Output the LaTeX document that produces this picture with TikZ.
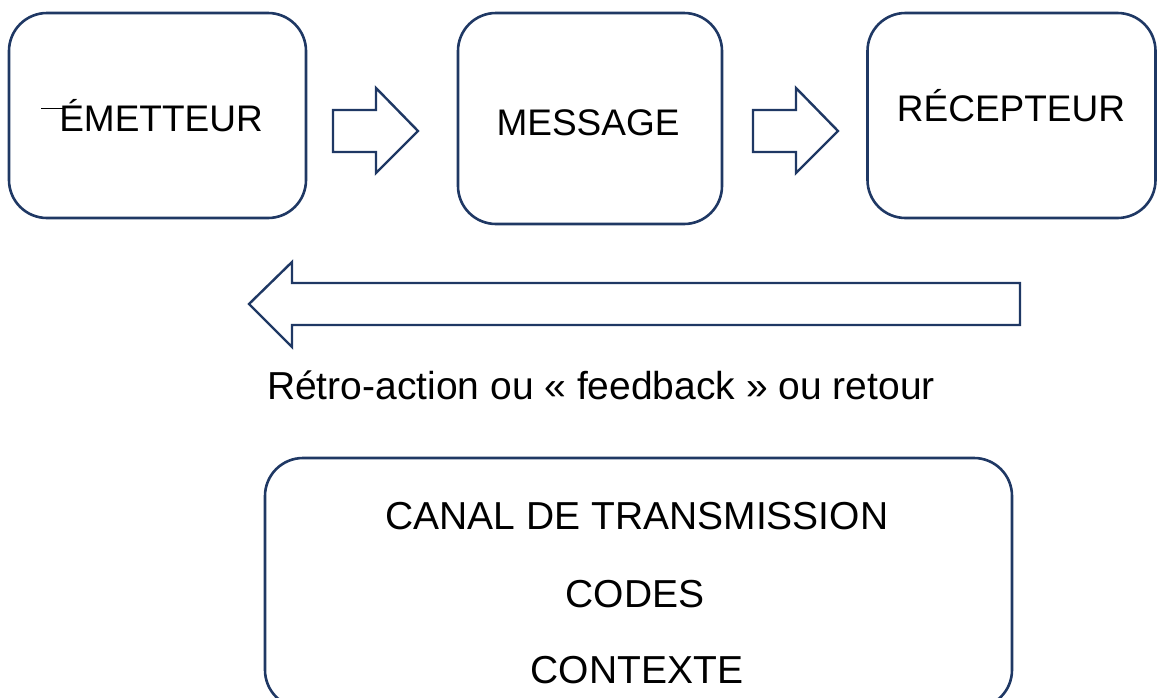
\documentclass[tikz,border=0pt]{standalone}
\usepackage{fontspec}
\setmainfont{Liberation Sans}
\definecolor{navy}{HTML}{1F3864}
\begin{document}
\begin{tikzpicture}[x=1pt,y=-1pt,
  box/.style={draw=navy,line width=2.6pt,rounded corners=38pt,inner sep=0pt},
  blockarrow/.style={draw=navy,line width=2.4pt,line join=miter,fill=white},
  lbl/.style={font=\fontsize{37}{42}\selectfont,inner sep=0pt,anchor=base},
  biglbl/.style={font=\fontsize{39}{44}\selectfont,inner sep=0pt,anchor=base}]
\useasboundingbox (0,0) rectangle (1157,697);
% boxes
\node[box,minimum width=297pt,minimum height=205pt] (emet) at (157.5,115.5) {};
\node[box,minimum width=264pt,minimum height=211pt] (mess) at (590,118.5) {};
\node[box,minimum width=288pt,minimum height=205pt] (recep) at (1011.5,115.5) {};
\node[box,minimum width=747pt,minimum height=250pt] (canal) at (638.5,583) {};
% labels
\node[lbl] (temet) at (161,131) {ÉMETTEUR};
\node[lbl] (tmess) at (588,135) {MESSAGE};
\node[lbl] (trecep) at (1011,121) {RÉCEPTEUR};
\node[biglbl] (tfeed) at (601,399) {Rétro-action ou « feedback » ou retour};
\node[biglbl] (tcanal) at (637,529) {CANAL DE TRANSMISSION};
\node[biglbl] (tcodes) at (635,607) {CODES};
\node[biglbl] (tcontexte) at (637,683) {CONTEXTE};
% stray stroke before E
\coordinate (s1) at (41,108);
\coordinate (s2) at (64,108);
\draw[line width=0.9pt] (s1) -- (s2);
% small arrows
\coordinate (a1) at (333,110);
\draw[blockarrow] (a1) -- ++(43,0) -- ++(0,-22) -- ++(42,43) -- ++(-42,42) -- ++(0,-21) -- ++(-43,0) -- cycle;
\coordinate (a2) at (753,110);
\draw[blockarrow] (a2) -- ++(43,0) -- ++(0,-22) -- ++(42,43) -- ++(-42,42) -- ++(0,-21) -- ++(-43,0) -- cycle;
% feedback arrow
\coordinate (f1) at (1020,283);
\draw[blockarrow] (f1) -- (292,283) -- (292,262) -- (249,304) -- (292,347) -- (292,325) -- (1020,325) -- cycle;
\end{tikzpicture}
\end{document}
